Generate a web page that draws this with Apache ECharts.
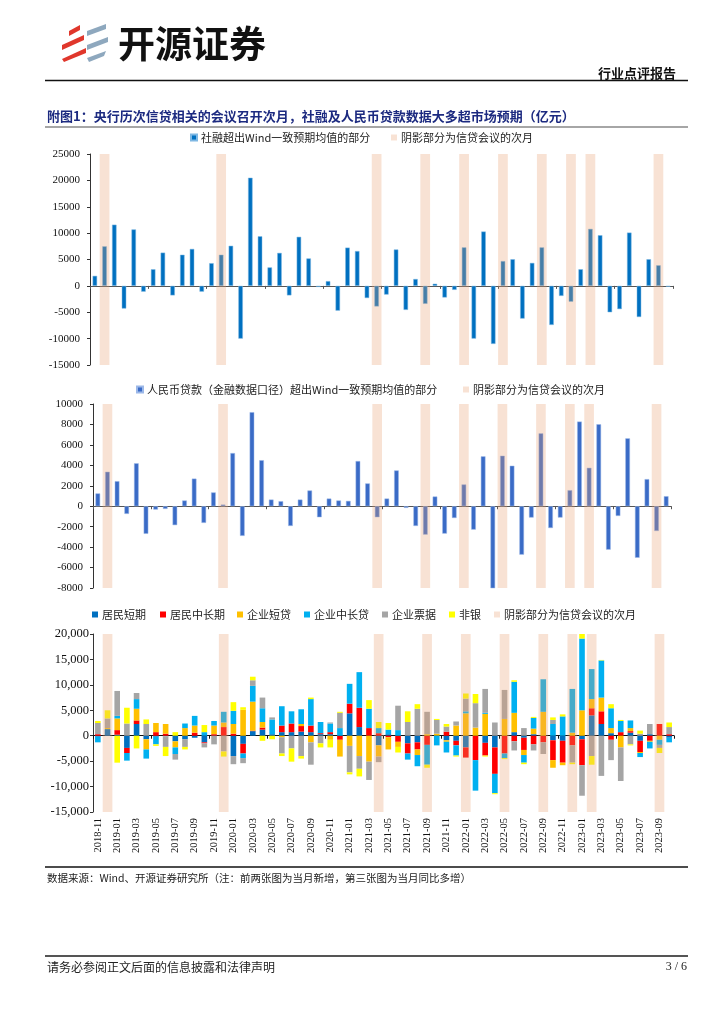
<!DOCTYPE html>
<html><head><meta charset="utf-8">
<script src="https://cdn.jsdelivr.net/npm/echarts@6/dist/echarts.min.js"></script>
<style>html,body{margin:0;padding:0;background:#fff}#main{width:724px;height:1024px}</style>
</head><body><div id="main"></div>
<script>
// ---------- DATA ----------
const months = ['2018-11','2018-12','2019-01','2019-02','2019-03','2019-04','2019-05','2019-06','2019-07','2019-08','2019-09','2019-10',
'2019-11','2019-12','2020-01','2020-02','2020-03','2020-04','2020-05','2020-06','2020-07','2020-08','2020-09','2020-10',
'2020-11','2020-12','2021-01','2021-02','2021-03','2021-04','2021-05','2021-06','2021-07','2021-08','2021-09','2021-10',
'2021-11','2021-12','2022-01','2022-02','2022-03','2022-04','2022-05','2022-06','2022-07','2022-08','2022-09','2022-10',
'2022-11','2022-12','2023-01','2023-02','2023-03','2023-04','2023-05','2023-06','2023-07','2023-08','2023-09','2023-10'];
const shadeMonths = ['2018-12','2019-12','2021-04','2021-09','2022-01','2022-05','2022-09','2022-12','2023-02','2023-09'];

// Chart 1: 社融超出Wind一致预期均值的部分 (亿元)
const tsfSurprise = [1900,7500,11600,-4300,10700,-1100,3150,6300,-1800,5900,7000,-1100,
4300,5900,7600,-10000,20500,9400,3500,6250,-1800,9300,5200,-200,
900,-4700,7250,6600,-2300,-3900,-1650,6900,-4550,1300,-3400,400,
-2200,-750,7300,-10000,10300,-11000,4700,5050,-6200,4350,7300,-7400,
-1900,-3000,3150,10800,9600,-5000,-4400,10100,-5900,5050,3900,-150];

// Chart 2: 人民币贷款超出Wind一致预期均值的部分 (亿元)
const loanSurprise = [1250,3370,2450,-750,4200,-2700,-330,-260,-1850,560,2700,-1630,
1350,160,5200,-2900,9200,4500,650,490,-1930,650,1540,-1080,
750,560,520,4420,2230,-1080,750,3500,-160,-1930,-2780,950,
-2680,-1150,2130,-2290,4880,-8050,4940,3960,-4740,-1110,7130,-2130,
-1110,1570,8280,3760,8020,-4250,-950,6640,-5040,2650,-2420,980];

// Chart 3: 同比多增 (亿元)
const hhShort = [-200,1300,200,-2400,2300,-700,-200,-100,-1100,-700,
-400,-1300,0,0,-4000,-1600,900,1200,300,700,
700,800,700,300,300,0,4400,1700,0,-1900,
300,0,-1500,-1300,0,0,-900,-1000,-2300,0,
-1400,-2300,0,700,-400,300,0,-900,-1000,0,
-700,4000,2300,500,0,600,-1000,300,0,-400];
const hhLong = [300,0,900,-1000,700,0,700,400,0,0,
600,-200,300,1700,400,-1900,100,400,0,1300,
1700,1100,1300,200,400,-800,1900,3800,1500,500,
-300,-1200,-2000,-1400,-1800,0,800,-900,-2000,-4800,
-2500,-5200,-3500,-1100,-2400,-1700,-1300,-3900,-4300,-1900,
-5100,1400,2500,-800,700,300,-2200,-1000,2300,300];
const corpShort = [0,200,2300,0,2300,-2000,1800,1900,-1200,1500,
1400,0,1700,900,1900,5100,5700,1100,0,-300,
0,400,-1300,0,-800,-3300,-2000,-4000,-5100,-2200,
-2400,-1000,0,-1100,300,400,-300,2000,4400,1600,
4300,0,3300,3800,-1000,1100,4700,-1500,-500,600,
5000,1800,2700,1000,-2300,600,-200,-200,-800,0];
const corpLong = [-1100,0,500,-1500,1900,-1800,-1500,0,-1300,900,
1900,700,900,2100,2600,-900,3100,2700,2900,3800,
2400,2900,5200,2200,1700,1500,3900,7000,3800,1000,
900,1100,-1200,-2200,-3900,-1900,-2100,-2000,400,-6000,
200,-3800,-900,6100,-1500,2100,6400,2300,3800,8600,
14100,5900,7300,3900,2200,1500,-800,-1300,-1000,-900];
const corpBill = [2200,1900,4900,2400,1200,2300,0,-2100,-1100,-1500,
0,-800,-1700,-3100,-1600,-1000,1100,2100,400,-3200,
-2500,-4000,-4400,-1500,200,3000,-5200,-2500,-3600,-1100,
0,4800,2700,5300,4400,2700,1000,800,2500,4800,
4700,2600,5700,-1800,1500,-1200,-2300,800,0,-3400,
-6000,-4000,-7900,-4000,-6600,-1700,400,2000,-600,1400];
const nonBank = [400,1600,-5300,3100,-2500,900,-300,-1800,700,-500,
0,1400,0,-1000,1700,500,700,-1000,-700,-500,
-2600,-500,300,-800,-1500,200,-400,-1500,1700,1200,
1300,-1100,2100,900,-600,200,500,-200,1000,1800,
-200,-200,-200,300,-300,200,0,500,400,-300,
900,-1700,100,800,200,-200,600,0,-1000,900];

const loanNames = ['居民短期','居民中长期','企业短贷','企业中长贷','企业票据','非银'];
const shadeName = '阴影部分为信贷会议的次月';

// ---------- CHART ----------
const CJK = '"Noto Sans CJK SC", sans-serif';
const SERIF = '"Liberation Serif", "Times New Roman", serif';
const SHADE = 'rgba(233,160,112,0.3)';
const loanColors = ['#0070c0','#ff0000','#ffc000','#00b0f0','#a5a5a5','#ffff00'];

const axisRanges = [[-15000,25000,5000],[-8000,10000,2000],[-15000,20000,5000]];

function shadeBase(i){ const mn = axisRanges[i][0]; return months.map(m => shadeMonths.includes(m) ? mn : '-'); }
function shadeSpan(i){ const r = axisRanges[i]; return months.map(m => shadeMonths.includes(m) ? r[1]-r[0] : '-'); }

function dataX(g, color){
  return {type:'category', gridIndex:g, data:months, position:'bottom',
    axisLine:{onZero:true, lineStyle:{color:color, width:1}},
    axisTick:{show:true, length:3, lineStyle:{color:color}},
    axisLabel:{show:false}, splitLine:{show:false}};
}
function hiddenX(g){
  return {type:'category', gridIndex:g, data:months, position:'bottom', show:false,
    axisLine:{onZero:false}};
}
function yAx(g, fs, margin, fmt){
  const r = axisRanges[g];
  return {type:'value', gridIndex:g, min:r[0], max:r[1], interval:r[2],
    axisLine:{show:true, onZero:false, lineStyle:{color:'#333'}},
    axisTick:{show:true, length:3, lineStyle:{color:'#333'}},
    splitLine:{show:false},
    axisLabel:{fontFamily:SERIF, fontSize:fs, color:'#111', margin:margin, formatter:fmt}};
}
function leg(name, markerX, y){
  return {data:[name], left:markerX-3, top:y-7, padding:0, itemWidth:6, itemHeight:6, icon:'rect',
    selectedMode:false, textStyle:{fontSize:11, color:'#222', fontFamily:CJK, padding:[0,0,0,-1]}};
}
function shadeSeries(xi, yi, g){
  return [
    {name:'_base'+g, type:'bar', xAxisIndex:xi, yAxisIndex:yi, stack:'shade'+g, stackStrategy:'all',
     barWidth:'100%', data:shadeBase(g), itemStyle:{color:'rgba(0,0,0,0)'}, z:3, silent:true},
    {name:shadeName, type:'bar', xAxisIndex:xi, yAxisIndex:yi, stack:'shade'+g, stackStrategy:'all',
     barWidth:'100%', data:shadeSpan(g), itemStyle:{color:SHADE}, z:3, silent:true}
  ];
}

const series = [
  {name:'社融超出Wind一致预期均值的部分', type:'bar', xAxisIndex:0, yAxisIndex:0, barWidth:'46%',
   data:tsfSurprise, itemStyle:{color:'#0070c0', borderColor:'#7fb8e3', borderWidth:0.5}},
  ...shadeSeries(1,0,0),
  {name:'人民币贷款（金融数据口径）超出Wind一致预期均值的部分', type:'bar', xAxisIndex:2, yAxisIndex:1, barWidth:'48%',
   data:loanSurprise, itemStyle:{color:'#3a6bc6', borderColor:'#9cb8e8', borderWidth:0.5}},
  ...shadeSeries(3,1,1)
];
const loanData = [hhShort, hhLong, corpShort, corpLong, corpBill, nonBank];
loanNames.forEach((n,i) => series.push({name:n, type:'bar', xAxisIndex:4, yAxisIndex:2, stack:'loans',
  barWidth:'58%', data:loanData[i], itemStyle:{color:loanColors[i]}}));
series.push(...shadeSeries(5,2,2));

const labelX = {type:'category', gridIndex:2, data:months, position:'bottom',
  axisLine:{show:false, onZero:false}, axisTick:{show:false},
  axisLabel:{show:true, interval:1, rotate:90, margin:6, fontFamily:SERIF, fontSize:10.5, color:'#111'},
  splitLine:{show:false}};

const text = (t, x, y, font, fill, align) => ({type:'text', silent:true,
  style:{text:t, x:x, y:y, font:font, fill:fill||'#000', align:align||'left', verticalAlign:'middle'}});
const line = (x1,y1,x2,y2,stroke,w) => ({type:'line', silent:true, shape:{x1,y1,x2,y2}, style:{stroke, lineWidth:w}});
const poly = (pts, fill) => ({type:'polygon', silent:true, shape:{points:pts}, style:{fill}});

const plain = v => String(v);
const option = {
  animation:false,
  backgroundColor:'#fff',
  textStyle:{fontFamily:CJK},
  grid:[
    {left:90, top:154, width:583, height:211},
    {left:93, top:404, width:578, height:184},
    {left:93, top:634, width:581, height:178}
  ],
  xAxis:[dataX(0,'#555'), hiddenX(0), dataX(1,'#555'), hiddenX(1), dataX(2,'#111'), labelX],
  yAxis:[yAx(0,11,10,plain), yAx(1,11,10,plain), yAx(2,12.5,4, v => v.toLocaleString('en-US'))],
  legend:[
    leg('社融超出Wind一致预期均值的部分',193,139),
    leg(shadeName,394,139),
    leg('人民币贷款（金融数据口径）超出Wind一致预期均值的部分',139,391),
    leg(shadeName,466,391),
    leg('居民短期',95,616), leg('居民中长期',163,616), leg('企业短贷',240,616),
    leg('企业中长贷',307,616), leg('企业票据',385,616), leg('非银',452,616),
    leg(shadeName,497,616)
  ],
  series:series,
  graphic:{elements:[
    // logo
    poly([[69,31],[80,25],[80,30],[69,36]],'#e0372c'),
    poly([[62,45],[84,35],[84,40],[62,50]],'#e0372c'),
    poly([[62,59],[86,48],[86,53],[64,62]],'#e0372c'),
    poly([[87,31],[106,24],[106,29],[87,36]],'#8ea8be'),
    poly([[87,45],[108,37],[108,42],[87,50]],'#8ea8be'),
    poly([[87,58],[106,51],[104,56],[89,62]],'#8ea8be'),
    text('开源证券',118,44,'bold 37px '+CJK,'#111'),
    text('行业点评报告',676,73,'bold 13px '+CJK,'#111','right'),
    line(45,80.5,688,80.5,'#111',1.5),
    text('附图1：央行历次信贷相关的会议召开次月，社融及人民币贷款数据大多超市场预期（亿元）',47,116,'bold 13px '+CJK,'#1c2a80'),
    line(45,127,688,127,'#a6a6a6',2),
    line(45,867,688,867,'#111',1.3),
    text('数据来源：Wind、开源证券研究所（注：前两张图为当月新增，第三张图为当月同比多增）',47,878,'10.5px '+CJK,'#222'),
    line(45,956,688,956,'#555',2),
    text('请务必参阅正文后面的信息披露和法律声明',47,967,'12px '+CJK,'#222'),
    text('3 / 6',687,967,'12px '+SERIF,'#222','right')
  ]}
};
const chart = echarts.init(document.getElementById('main'), null, {renderer:'canvas'});
chart.setOption(option);
</script></body></html>
